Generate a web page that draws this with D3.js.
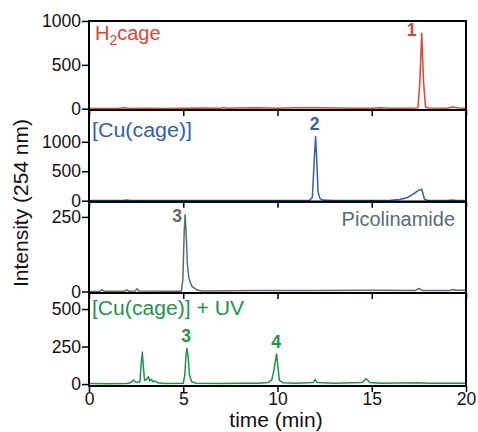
<!DOCTYPE html>
<html>
<head>
<meta charset="utf-8">
<script src="https://cdn.jsdelivr.net/npm/d3@7"></script>
<style>
  body { margin: 0; background: #fff; }
  text { font-family: "Liberation Sans", Arial, sans-serif; }
</style>
</head>
<body>
<div id="graph"></div>
<script>
// [time (min), intensity]
const h2cage = [
  [0, 2], [1.5, 3], [1.9, 10], [2.1, 3], [3, 5], [4, 3], [5, 6], [6, 8], [7.0, 4], [7.1, 14], [7.3, 4],
  [8, 8], [9, 10], [10, 6], [11, 12], [12, 10], [13, 8], [14, 6], [15, 4], [15.5, 12], [16, 5], [17, 4],
  [17.45, 8], [17.55, 300], [17.65, 860], [17.75, 300], [17.85, 20], [18, 8], [19, 6], [19.3, 18], [19.6, 8], [20, 6]
];
const cuCage = [
  [0, 2], [1.8, 3], [2.0, 10], [2.2, 3], [5, 3], [8, 4], [11.7, 4], [11.85, 60], [11.95, 700], [12.02, 1090],
  [12.08, 700], [12.15, 150], [12.25, 40], [12.4, 10], [13, 5], [15, 5], [16, 8], [16.5, 20], [16.9, 55],
  [17.2, 110], [17.5, 180], [17.65, 195], [17.72, 120], [17.8, 20], [18, 5], [19, 5], [19.3, 12], [19.5, 5], [20, 5]
];
const picolinamide = [
  [0, 0], [0.6, 1], [0.7, 6], [0.8, 1], [1.9, 1], [2.0, 6], [2.1, 1], [2.45, 2], [2.55, 9], [2.65, 2],
  [4.9, 1], [4.98, 40], [5.05, 200], [5.1, 257], [5.15, 200], [5.22, 90], [5.3, 45], [5.45, 18], [5.7, 6],
  [6, 2], [9, 3], [12, 3], [15, 4], [17.3, 3], [17.5, 10], [17.7, 3], [19.1, 3], [19.3, 7], [19.5, 4], [20, 4]
];
const cuCageUV = [
  [0, 3], [1, 2], [2, 4], [2.2, 8], [2.35, 27], [2.5, 10], [2.7, 15], [2.78, 150], [2.83, 213], [2.88, 120],
  [2.95, 25], [3.05, 30], [3.15, 50], [3.22, 20], [3.3, 32], [3.4, 15], [3.5, 20], [3.65, 8], [4, 4], [5.0, 5],
  [5.08, 60], [5.15, 200], [5.2, 238], [5.26, 180], [5.33, 60], [5.45, 15], [5.7, 5], [7, 4], [8, 6], [9, 5],
  [9.5, 10], [9.7, 30], [9.82, 100], [9.95, 200], [10.02, 120], [10.1, 25], [10.3, 8], [11, 6], [11.9, 10],
  [12.0, 31], [12.1, 10], [13, 5], [14.5, 10], [14.7, 36], [14.9, 10], [15.5, 5], [17.5, 9], [18, 5], [20, 5]
];

const xTicks = [0, 5, 10, 15, 20];

const panels = [
  { data: h2cage, color: '#e0452f', top: 21, bottom: 110, domain: [-15, 1000], ticks: [0, 500, 1000],
    label: 'H', sub: '2', rest: 'cage', lx: 95, ly: 40, anchor: 'start',
    peaks: [{ t: '1', x: 411.5, y: 35.5 }] },
  { data: cuCage, color: '#2f5fb3', top: 110, bottom: 201.7, domain: [-17, 1540], ticks: [0, 500, 1000],
    label: '[Cu(cage)]', len: 100, lx: 92, ly: 137, anchor: 'start',
    peaks: [{ t: '2', x: 314.5, y: 130 }] },
  { data: picolinamide, color: '#5b6b71', top: 201.7, bottom: 293, domain: [-5, 301], ticks: [0, 250],
    label: 'Picolinamide', lx: 455, ly: 226, anchor: 'end',
    peaks: [{ t: '3', x: 177, y: 221.5 }] },
  { data: cuCageUV, color: '#1a9648', top: 293, bottom: 386, domain: [-13, 607], ticks: [0, 250, 500],
    label: '[Cu(cage)] + UV', len: 152, lx: 92, ly: 315, anchor: 'start',
    peaks: [{ t: '3', x: 186, y: 341.5 }, { t: '4', x: 276, y: 348 }] }
];

const W = 478, H = 432;
const left = 89, right = 466;

const svg = d3.select('#graph').append('svg')
  .attr('width', W)
  .attr('height', H);

const x = d3.scaleLinear().domain([0, 20]).range([left, right]);

panels.forEach((p, i) => {
  const y = d3.scaleLinear().domain(p.domain).range([p.bottom, p.top]);
  const g = svg.append('g');

  g.append('clipPath').attr('id', 'clip' + i)
    .append('rect')
      .attr('x', left).attr('y', p.top)
      .attr('width', right - left).attr('height', p.bottom - p.top);

  g.append('path')
    .datum(p.data)
    .attr('clip-path', `url(#clip${i})`)
    .attr('fill', 'none')
    .attr('stroke', p.color)
    .attr('stroke-width', 1.5)
    .attr('stroke-linejoin', 'round')
    .attr('d', d3.line().x(d => x(d[0])).y(d => y(d[1])));

  // y axis
  const ya = g.append('g')
    .attr('transform', `translate(${left},0)`)
    .call(d3.axisLeft(y).tickValues(p.ticks).tickSize(7).tickPadding(1).tickFormat(d3.format('d')));
  ya.select('.domain').remove();
  ya.selectAll('line').attr('stroke', '#000').attr('stroke-width', 1.5);
  ya.selectAll('text').attr('font-size', 17.5).attr('fill', '#111');

  // x ticks at bottom of each panel
  const xa = g.append('g')
    .attr('transform', `translate(0,${p.bottom})`)
    .call(d3.axisBottom(x).tickValues(xTicks).tickSize(6).tickPadding(1));
  xa.select('.domain').remove();
  xa.selectAll('line').attr('stroke', '#000').attr('stroke-width', 1.5);
  if (i < panels.length - 1) {
    xa.selectAll('text').remove();
  } else {
    xa.selectAll('text').attr('font-size', 17.5).attr('fill', '#111');
  }

  g.append('rect')
    .attr('x', left).attr('y', p.top)
    .attr('width', right - left).attr('height', p.bottom - p.top)
    .attr('fill', 'none')
    .attr('stroke', '#000')
    .attr('stroke-width', 2);

  // panel label
  const lab = g.append('text')
    .attr('x', p.lx).attr('y', p.ly)
    .attr('text-anchor', p.anchor)
    .attr('font-size', 20)
    .attr('fill', p.color);
  if (p.len) lab.attr('textLength', p.len).attr('lengthAdjust', 'spacingAndGlyphs');
  lab.append('tspan').text(p.label);
  if (p.sub) {
    lab.append('tspan').attr('font-size', 14).attr('dy', 5).text(p.sub);
    lab.append('tspan').attr('dy', -5).text(p.rest);
  }

  p.peaks.forEach(pk => {
    g.append('text')
      .attr('x', pk.x).attr('y', pk.y)
      .attr('text-anchor', 'middle')
      .attr('font-size', 17.5)
      .attr('font-weight', 'bold')
      .attr('fill', p.color)
      .text(pk.t);
  });
});

svg.append('text')
  .attr('x', 276).attr('y', 427)
  .attr('text-anchor', 'middle')
  .attr('font-size', 21)
  .attr('fill', '#111')
  .text('time (min)');

svg.append('text')
  .attr('transform', 'translate(28,203) rotate(-90)')
  .attr('text-anchor', 'middle')
  .attr('font-size', 21)
  .attr('fill', '#111')
  .text('Intensity (254 nm)');
</script>
</body>
</html>
